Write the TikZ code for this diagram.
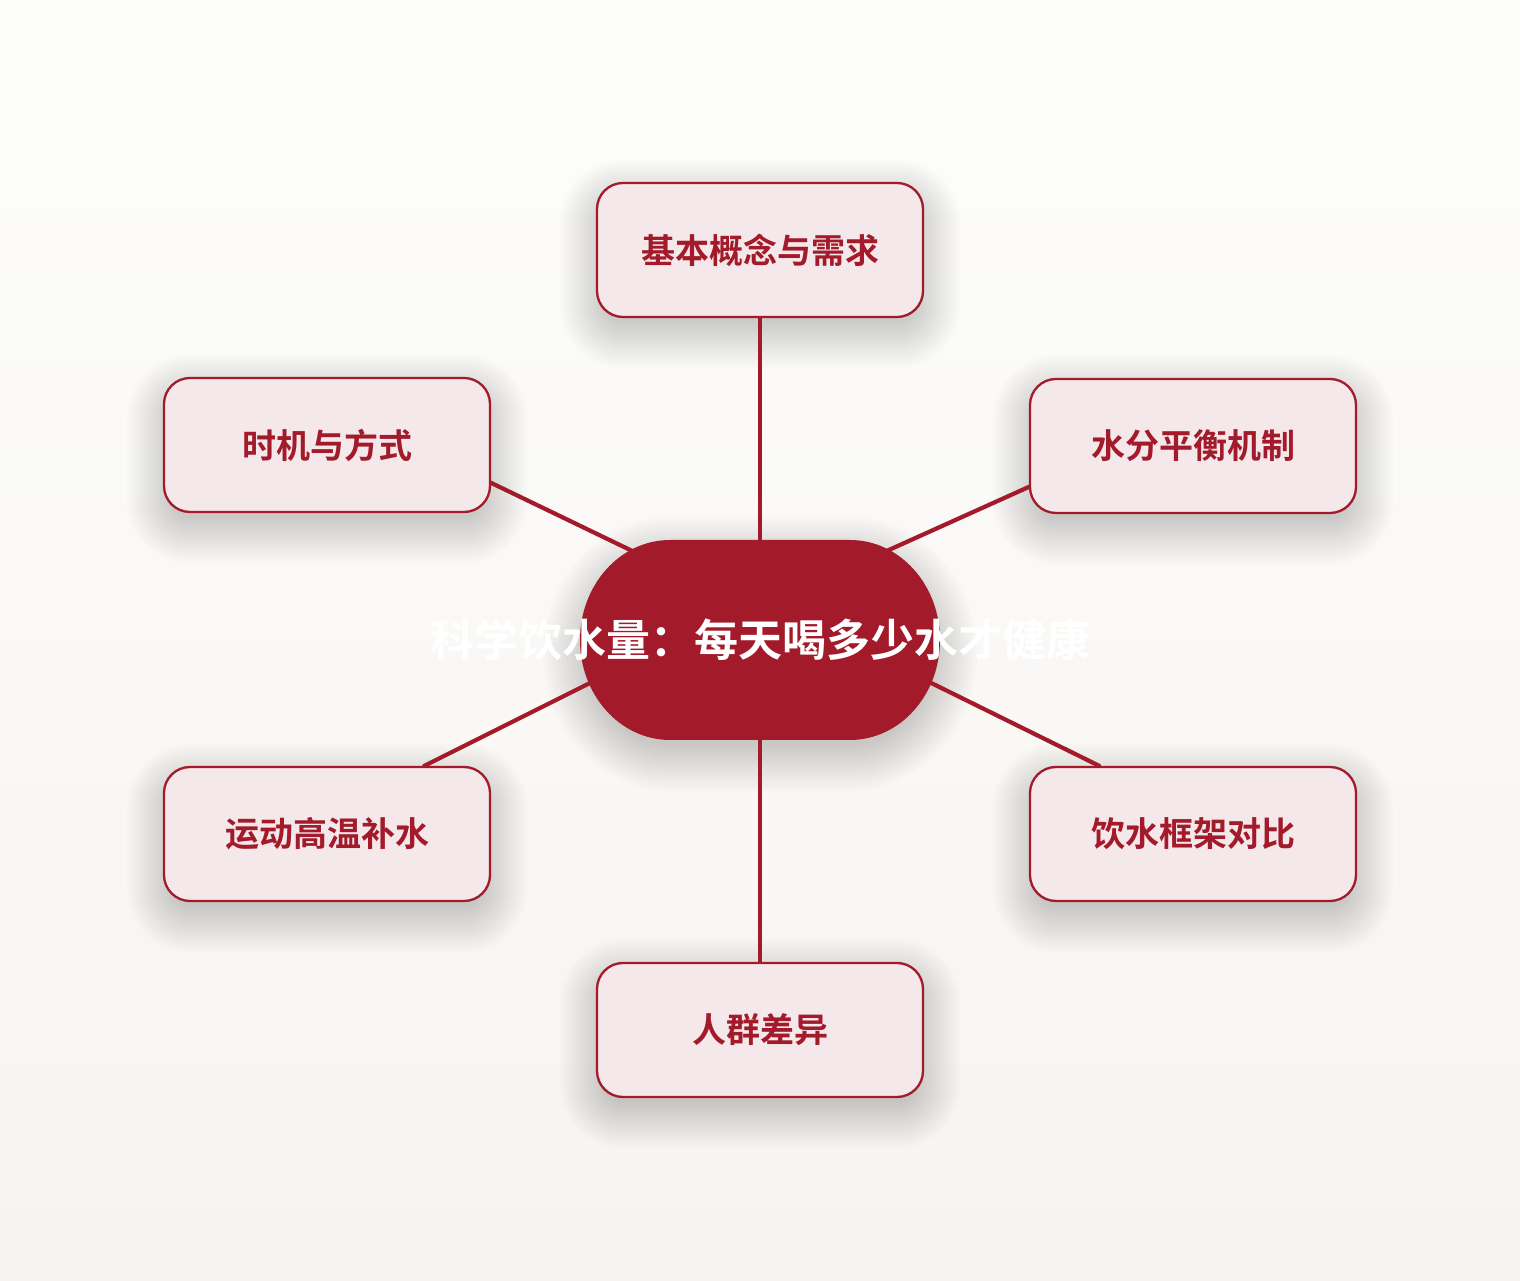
\documentclass[tikz,border=0pt]{standalone}
\usepackage{fontspec}
\newfontfamily\cjk{Noto Sans CJK SC}[BoldFont={Noto Sans CJK SC Bold}]
\usetikzlibrary{calc}
\definecolor{dred}{HTML}{A31A2A}
\definecolor{boxfill}{HTML}{F5E8EB}
\definecolor{bgtop}{HTML}{FDFDFC}
\definecolor{bgbot}{HTML}{F6F4F0}
\tikzset{
  topic/.style={draw=dred, line width=1.15pt, fill=boxfill, rounded corners=13pt,
    minimum width=163pt, minimum height=67pt, inner sep=0pt,
    text=dred, font=\cjk\bfseries\fontsize{17pt}{20pt}\selectfont},
  hubshape/.style={minimum width=183pt, minimum height=100pt, inner sep=0pt},
  hubtext/.style={text=white, font=\cjk\bfseries\fontsize{22pt}{26pt}\selectfont, inner sep=0pt},
  conn/.style={draw=dred, line width=2.1pt, line cap=round},
  shadowlayer/.style={fill=black, opacity=0.011}
}
% soft shadow for a rounded box: centre x, centre y, half width, half height, radius (picture units)
\newcommand\boxshadow[5]{%
  \foreach \k in {0,...,15}{%
    \pgfmathsetmacro\ee{-8+3*\k}%
    \pgfmathsetmacro\rr{max(2,(#5+\ee))*0.5}%
    \path[shadowlayer, rounded corners=\rr pt]
      (#1-#3-\ee, #2-#4-\ee-14) rectangle (#1+#3+\ee, #2+#4+\ee-14);
  }}
\begin{document}
\begin{tikzpicture}[x=0.5pt,y=0.5pt]
\shade[top color=bgtop, bottom color=bgbot] (0,0) rectangle (1520,1280);
\useasboundingbox (0,0) rectangle (1520,1280);
% shadows
\boxshadow{760}{1030}{163}{67}{26}
\boxshadow{327}{835}{163}{67}{26}
\boxshadow{1193}{834}{163}{67}{26}
\boxshadow{327}{446}{163}{67}{26}
\boxshadow{1193}{446}{163}{67}{26}
\boxshadow{760}{250}{163}{67}{26}
\foreach \k in {0,...,15}{%
  \pgfmathsetmacro\ee{-8+3*\k}%
  \path[shadowlayer] ($(670,640-14)+(0,100+\ee)$) -- ($(850,640-14)+(0,100+\ee)$)
    arc[start angle=90, end angle=-90, x radius=90+\ee, y radius=100+\ee]
    -- ($(670,640-14)+(0,-100-\ee)$)
    arc[start angle=270, end angle=90, x radius=90+\ee, y radius=100+\ee] -- cycle;
}
% nodes
\node[hubshape] (c) at (760,640) {};
\node[topic] (top) at (760,1030) {基本概念与需求};
\node[topic] (tl) at (327,835) {时机与方式};
\node[topic] (tr) at (1193,834) {水分平衡机制};
\node[topic] (bl) at (327,446) {运动高温补水};
\node[topic] (br) at (1193,446) {饮水框架对比};
\node[topic] (bot) at (760,250) {人群差异};
\coordinate (cTL) at (680,706);
\coordinate (cTR) at (840,708);
\coordinate (cBL) at (680,642);
\coordinate (cBR) at (840,642);
% connectors
\draw[conn] (top.south) -- (c.north);
\draw[conn] (bot.north) -- (c.south);
\draw[conn] (tl.-13.5) -- (cTL);
\draw[conn] (tr.-166.2) -- (cTR);
\draw[conn] (bl.35.8) -- (cBL);
\draw[conn] (br.144.2) -- (cBR);
% hub body
\fill[dred] (670,740) -- (850,740)
  arc[start angle=90, end angle=-90, x radius=90, y radius=100]
  -- (670,540)
  arc[start angle=270, end angle=90, x radius=90, y radius=100] -- cycle;
\node[hubtext] (ct) at (c.center) {科学饮水量：每天喝多少水才健康};
\end{tikzpicture}
\end{document}
